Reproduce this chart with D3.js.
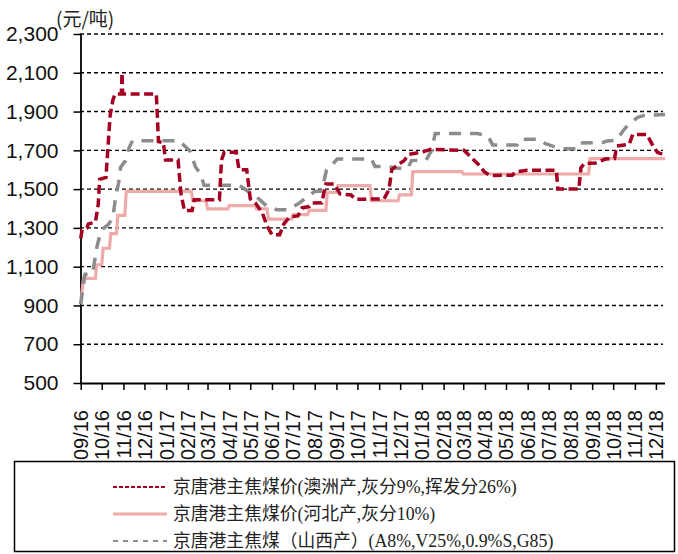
<html>
<head>
<meta charset="utf-8">
<script src="https://d3js.org/d3.v7.min.js"></script>
<style>
body { margin: 0; background: #fff; }
.ytick { font-family: "Liberation Sans Narrow", "Arial Narrow", "Liberation Sans", sans-serif; font-size: 21px; }
.xtick { font-family: "Liberation Sans", Arial, sans-serif; font-size: 20px; }
.legtext { font-family: "Liberation Serif", "Times New Roman", "Noto Sans CJK SC", serif; font-size: 17.8px; }
</style>
</head>
<body>
<svg width="678" height="554"></svg>
<script>
// series names (legend)
var seriesNames = [
  "京唐港主焦煤价(澳洲产,灰分9%,挥发分26%)",
  "京唐港主焦煤价(河北产,灰分10%)",
  "京唐港主焦煤（山西产）(A8%,V25%,0.9%S,G85)"
];
var unitLabel = "(元/吨)";
var yTicks = [500, 700, 900, 1100, 1300, 1500, 1700, 1900, 2100, 2300];
var xStart = "2016-09-01", xEnd = "2018-12-14";

// 澳洲产
var ausPrice = [
  ["2016-09-01",1245],["2016-09-03",1290],["2016-09-10",1300],["2016-09-12",1320],["2016-09-22",1330],
  ["2016-09-26",1420],["2016-09-28",1550],["2016-10-07",1560],["2016-10-10",1720],["2016-10-13",1880],
  ["2016-10-17",1960],["2016-10-20",1990],["2016-10-29",1990],["2016-10-30",2100],["2016-10-31",1990],
  ["2016-12-18",1990],["2016-12-21",1745],["2016-12-28",1740],["2016-12-31",1650],["2017-01-18",1650],
  ["2017-01-22",1480],["2017-01-27",1390],["2017-02-07",1390],["2017-02-10",1445],["2017-03-18",1445],
  ["2017-03-21",1650],["2017-03-25",1690],["2017-04-11",1690],["2017-04-15",1600],["2017-04-26",1600],
  ["2017-05-01",1450],["2017-05-08",1430],["2017-05-18",1380],["2017-05-25",1310],["2017-06-01",1265],
  ["2017-06-12",1265],["2017-06-18",1320],["2017-06-26",1356],["2017-07-08",1362],["2017-07-14",1403],
  ["2017-07-24",1410],["2017-07-28",1428],["2017-08-11",1430],["2017-08-17",1527],["2017-08-29",1527],
  ["2017-09-06",1475],["2017-09-22",1470],["2017-09-28",1447],["2017-11-08",1450],["2017-11-15",1497],
  ["2017-11-19",1600],["2017-11-27",1625],["2017-12-06",1645],["2017-12-14",1680],["2017-12-31",1690],
  ["2018-01-14",1705],["2018-03-02",1700],["2018-03-12",1665],["2018-03-22",1630],["2018-03-31",1590],
  ["2018-04-08",1570],["2018-05-10",1572],["2018-05-16",1590],["2018-05-31",1597],["2018-07-12",1597],
  ["2018-07-14",1500],["2018-08-13",1500],["2018-08-16",1610],["2018-08-21",1632],["2018-09-06",1635],
  ["2018-09-20",1655],["2018-10-03",1658],["2018-10-06",1722],["2018-10-24",1732],["2018-10-29",1782],
  ["2018-11-18",1782],["2018-11-27",1722],["2018-12-03",1690],["2018-12-10",1680]
];

// 河北产
var hebeiPrice = [
  ["2016-09-01",910],["2016-09-05",1040],["2016-09-22",1040],["2016-09-24",1110],["2016-10-01",1110],
  ["2016-10-03",1195],["2016-10-12",1195],["2016-10-14",1270],["2016-10-22",1270],["2016-10-24",1365],
  ["2016-11-03",1365],["2016-11-05",1488],["2017-02-06",1488],["2017-02-08",1440],["2017-02-27",1440],
  ["2017-03-01",1398],["2017-03-30",1398],["2017-04-01",1415],["2017-05-08",1415],["2017-05-10",1398],
  ["2017-05-25",1398],["2017-05-27",1345],["2017-06-29",1345],["2017-07-01",1368],["2017-07-22",1368],
  ["2017-07-24",1390],["2017-08-17",1390],["2017-08-19",1483],["2017-09-01",1483],["2017-09-03",1518],
  ["2017-10-19",1518],["2017-10-21",1440],["2017-11-28",1440],["2017-11-30",1470],["2017-12-17",1470],
  ["2017-12-19",1590],["2018-02-27",1590],["2018-03-01",1578],["2018-08-27",1578],["2018-08-29",1657],
  ["2018-12-14",1657]
];

// 山西产
var shanxiPrice = [
  ["2016-09-01",905],["2016-09-07",1060],["2016-09-18",1065],["2016-09-24",1200],["2016-09-30",1286],
  ["2016-10-11",1320],["2016-10-17",1355],["2016-10-21",1463],["2016-10-25",1530],["2016-10-28",1613],
  ["2016-11-04",1647],["2016-11-09",1713],["2016-11-14",1750],["2017-01-19",1750],["2017-02-04",1697],
  ["2017-02-12",1613],["2017-02-19",1580],["2017-02-24",1520],["2017-04-15",1520],["2017-05-10",1460],
  ["2017-05-25",1411],["2017-06-08",1394],["2017-06-24",1394],["2017-07-11",1430],["2017-07-21",1460],
  ["2017-08-01",1488],["2017-08-11",1490],["2017-08-18",1600],["2017-08-27",1630],["2017-09-02",1655],
  ["2017-10-21",1655],["2017-10-26",1617],["2017-11-12",1617],["2017-11-26",1607],["2017-12-12",1607],
  ["2017-12-17",1647],["2018-01-07",1650],["2018-01-15",1700],["2018-01-20",1787],["2018-03-21",1787],
  ["2018-04-05",1775],["2018-04-12",1728],["2018-05-17",1728],["2018-05-21",1757],["2018-06-18",1757],
  ["2018-06-26",1735],["2018-07-17",1708],["2018-08-10",1708],["2018-08-14",1738],["2018-09-16",1740],
  ["2018-09-22",1748],["2018-10-06",1752],["2018-10-15",1800],["2018-10-22",1830],["2018-11-05",1870],
  ["2018-11-15",1880],["2018-12-14",1885]
];

var parse = d3.timeParse("%Y-%m-%d");
var svg = d3.select("svg");

var x = d3.scaleTime().domain([parse(xStart), parse(xEnd)]).range([80.7, 665]);
var y = d3.scaleLinear().domain([500, 2300]).range([383, 34]);

// gridlines
svg.append("g").selectAll("line").data(yTicks.slice(1)).enter().append("line")
  .attr("x1", 80).attr("x2", 663)
  .attr("y1", function(d) { return y(d); }).attr("y2", function(d) { return y(d); })
  .attr("stroke", "#000").attr("stroke-width", 1.4).attr("stroke-dasharray", "4,3");

// y axis
var yaxis = d3.axisLeft(y).tickValues(yTicks).tickFormat(d3.format(",")).tickSize(7).tickSizeOuter(0).tickPadding(15);
var gy = svg.append("g").attr("transform", "translate(80.5,0)").call(yaxis);
gy.select(".domain").attr("stroke", "#000").attr("stroke-width", 1.8);
gy.selectAll(".tick line").attr("stroke-width", 1.5);
gy.selectAll("text").attr("class", "ytick").attr("fill", "#111").attr("font-family", null).attr("font-size", null);

// x axis
var months = d3.timeMonth.range(parse("2016-09-01"), parse("2018-12-02"));
var xaxis = d3.axisBottom(x).tickValues(months).tickFormat(d3.timeFormat("%m/%y")).tickSize(7).tickSizeOuter(0);
var gx = svg.append("g").attr("transform", "translate(0,383)").call(xaxis);
gx.select(".domain").attr("stroke", "#000").attr("stroke-width", 1.8).attr("d", "M80,0.5H665");
gx.selectAll(".tick line").attr("stroke-width", 1.5);
gx.selectAll("text").attr("class", "xtick").attr("fill", "#111")
  .attr("font-family", null).attr("font-size", null)
  .attr("text-anchor", "end")
  .attr("transform", "rotate(-90)")
  .attr("x", -27).attr("y", 0).attr("dy", "0.35em");

// unit
svg.append("text").text(unitLabel)
  .attr("x", 56).attr("y", 26)
  .style("font-family", "'Noto Sans CJK SC', sans-serif").style("font-size", "19px").attr("fill", "#222");

// lines
var line = d3.line()
  .x(function(d) { return x(parse(d[0])); })
  .y(function(d) { return y(d[1]); });

svg.append("path").datum(hebeiPrice).attr("d", line)
  .attr("fill", "none").attr("stroke", "#EEABAA").attr("stroke-width", 3.2);
svg.append("path").datum(shanxiPrice).attr("d", line)
  .attr("fill", "none").attr("stroke", "#8C8C8C").attr("stroke-width", 3.5).attr("stroke-dasharray", "12,9");
svg.append("path").datum(ausPrice).attr("d", line)
  .attr("fill", "none").attr("stroke", "#A50021").attr("stroke-width", 3.5).attr("stroke-dasharray", "9,4.5");

// legend
svg.append("rect").attr("x", 14.5).attr("y", 461.5).attr("width", 660).attr("height", 90)
  .attr("fill", "#fff").attr("stroke", "#000").attr("stroke-width", 1.5);
var legStyles = [
  { color: "#A50021", width: 2, dash: "4,2" },
  { color: "#EEABAA", width: 3, dash: null },
  { color: "#8C8C8C", width: 2, dash: "5,5" }
];
var rows = [487, 514, 541];
for (var i = 0; i < seriesNames.length; i++) {
  svg.append("line")
    .attr("x1", 113).attr("x2", 167).attr("y1", rows[i]).attr("y2", rows[i])
    .attr("stroke", legStyles[i].color).attr("stroke-width", legStyles[i].width)
    .attr("stroke-dasharray", legStyles[i].dash);
  svg.append("text").text(seriesNames[i])
    .attr("class", "legtext")
    .attr("x", 173).attr("y", rows[i]).attr("dy", "0.35em").attr("fill", "#222");
}
</script>
</body>
</html>
